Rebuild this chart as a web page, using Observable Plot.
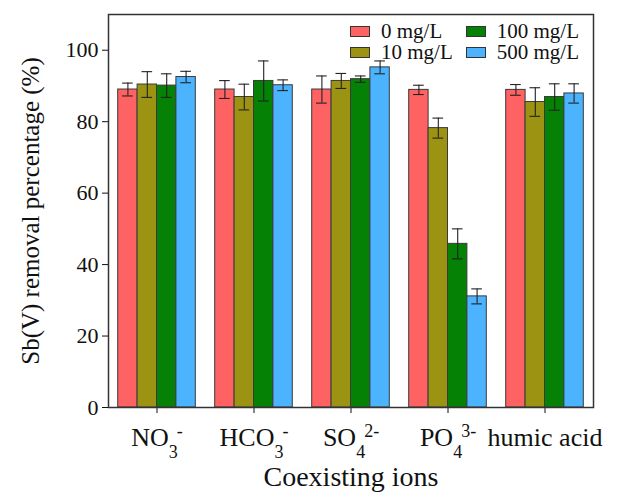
<!DOCTYPE html>
<html>
<head>
<meta charset="utf-8">
<script src="https://cdn.jsdelivr.net/npm/d3@7"></script>
<script src="https://cdn.jsdelivr.net/npm/@observablehq/plot@0.6"></script>
<style>
  body { margin: 0; background: #fff; }
  #chart { position: relative; width: 618px; height: 494px; font-family: "Liberation Serif", "Times New Roman", serif; }
  #chart svg { display: block; }
  .legend { position: absolute; top: 21px; left: 350px; display: grid; grid-template-rows: auto auto; grid-auto-flow: column; column-gap: 13px; row-gap: 1px; font-family: "Liberation Serif", "Times New Roman", serif; font-size: 21px; line-height: 20px; color: #111; }
  .legend .item { display: flex; align-items: center; white-space: nowrap; }
  .legend .sw { width: 18px; height: 9px; border: 1px solid #333; margin-right: 11px; }
</style>
</head>
<body>
<div id="chart"></div>
<script>
// Coexisting species (label pieces: base text, subscript, superscript)
const categories = ["NO3-", "HCO3-", "SO42-", "PO43-", "humic acid"];
const labelBase = ["NO", "HCO", "SO", "PO", "humic acid"];
const labelSub = ["3", "3", "4", "4", ""];
const labelSup = ["-", "-", "2-", "3-", ""];

// Concentrations of the coexisting species
const series = ["0 mg/L", "10 mg/L", "100 mg/L", "500 mg/L"];
const colors = ["#ff6262", "#9d9312", "#058205", "#4cb4ff"];

// Sb(V) removal percentage (%) per concentration, one value per species
const removal0 = [89.0, 89.0, 89.0, 88.9, 88.9];
const removal10 = [90.4, 86.9, 91.4, 78.2, 85.5];
const removal100 = [90.1, 91.4, 91.9, 45.8, 86.9];
const removal500 = [92.5, 90.2, 95.2, 31.1, 87.9];

// Standard deviations
const error0 = [1.8, 2.5, 3.8, 1.3, 1.5];
const error10 = [3.6, 3.6, 2.1, 2.8, 4.0];
const error100 = [3.3, 5.6, 0.9, 4.2, 3.7];
const error500 = [1.6, 1.5, 1.8, 2.1, 2.7];

const yTicks = [0, 20, 40, 60, 80, 100];

const removal = [removal0, removal10, removal100, removal500];
const errors = [error0, error10, error100, error500];

// Each category sits at an integer position; its bars share 80% of the unit
const inner = d3.scaleBand().domain(series).range([-0.4, 0.4]).paddingInner(0);
const rows = [];
categories.forEach((c, i) => {
  series.forEach((s, j) => {
    const x1 = i + 1 + inner(s);
    rows.push({
      category: c, series: s,
      x1, x2: x1 + inner.bandwidth(), xc: x1 + inner.bandwidth() / 2,
      value: removal[j][i], err: errors[j][i]
    });
  });
});

const capHalf = 0.055;
const font = '"Liberation Serif", "Times New Roman", serif';

const plot = Plot.plot({
  width: 618,
  height: 494,
  marginTop: 14,
  marginBottom: 87,
  marginLeft: 108,
  marginRight: 25,
  style: { fontFamily: font, fontSize: "22px", color: "#111", background: "#fff" },
  x: {
    domain: [0.5, 5.5],
    ticks: categories.map((c, i) => i + 1),
    tickFormat: (d) => categories[d - 1],
    tickSize: 6,
    tickPadding: 14,
    label: null
  },
  y: {
    domain: [0, 110],
    ticks: yTicks,
    tickSize: 6,
    tickPadding: 4,
    label: null
  },
  color: { domain: series, range: colors },
  marks: [
    Plot.rectY(rows, { x1: "x1", x2: "x2", y1: 0, y2: "value", fill: "series", stroke: "#3a3a3a", strokeWidth: 1 }),
    Plot.ruleX(rows, { x: "xc", y1: (d) => d.value - d.err, y2: (d) => d.value + d.err, stroke: "#222", strokeWidth: 1.1 }),
    Plot.ruleY(rows, { y: (d) => d.value + d.err, x1: (d) => d.xc - capHalf, x2: (d) => d.xc + capHalf, stroke: "#222", strokeWidth: 1.1 }),
    Plot.ruleY(rows, { y: (d) => d.value - d.err, x1: (d) => d.xc - capHalf, x2: (d) => d.xc + capHalf, stroke: "#222", strokeWidth: 1.1 }),
    Plot.frame({ stroke: "#333", strokeWidth: 1.5 }),
    Plot.text(["Coexisting ions"], { text: (d) => d, frameAnchor: "bottom", textAnchor: "middle", lineAnchor: "middle", dy: 70, fontSize: 28, fill: "#111" }),
    Plot.text(["Sb(V) removal percentage (%)"], { text: (d) => d, frameAnchor: "left", textAnchor: "middle", lineAnchor: "middle", dx: -78, rotate: -90, fontSize: 25, fill: "#111" })
  ]
});

// Category tick labels: larger type, chemical formulas with sub/superscripts
const ns = "http://www.w3.org/2000/svg";
plot.querySelectorAll("text").forEach((t) => {
  const k = categories.indexOf(t.textContent);
  if (k < 0) return;
  t.setAttribute("font-size", "26");
  if (!labelSub[k]) return;
  t.textContent = "";
  const base = document.createElementNS(ns, "tspan");
  base.textContent = labelBase[k];
  t.appendChild(base);
  const sub = document.createElementNS(ns, "tspan");
  sub.textContent = labelSub[k];
  sub.setAttribute("font-size", "18");
  sub.setAttribute("dy", "12");
  t.appendChild(sub);
  const sup = document.createElementNS(ns, "tspan");
  sup.textContent = labelSup[k];
  sup.setAttribute("font-size", "18");
  sup.setAttribute("dy", "-21");
  sup.setAttribute("dx", "-1");
  t.appendChild(sup);
});

const chart = document.getElementById("chart");
chart.appendChild(plot);

// Legend in the upper right corner of the frame
const legend = document.createElement("div");
legend.className = "legend";
series.forEach((s, j) => {
  const item = document.createElement("div");
  item.className = "item";
  const sw = document.createElement("span");
  sw.className = "sw";
  sw.style.background = colors[j];
  const label = document.createElement("span");
  label.textContent = s;
  item.appendChild(sw);
  item.appendChild(label);
  legend.appendChild(item);
});
chart.appendChild(legend);
</script>
</body>
</html>
